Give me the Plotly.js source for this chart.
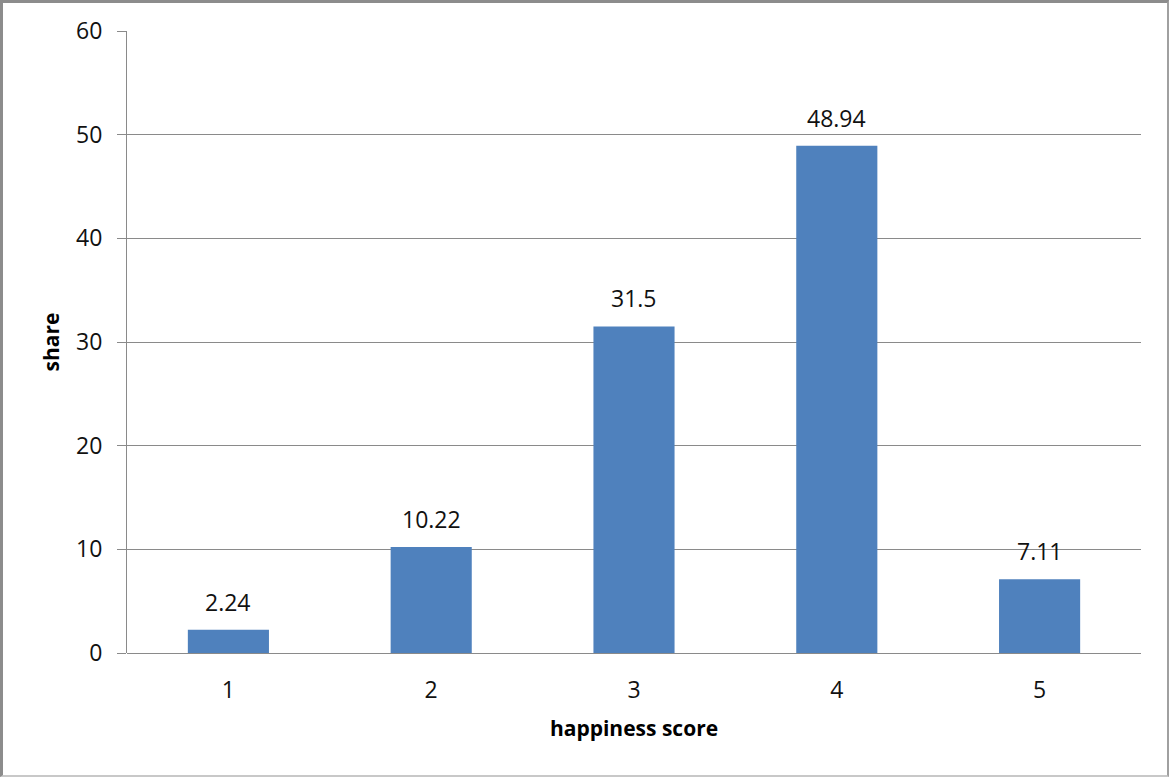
<!DOCTYPE html>
<html>
<head>
<meta charset="utf-8">
<script src="https://cdn.plot.ly/plotly-3.0.1.min.js"></script>
<style>
  html, body { margin: 0; padding: 0; background: #fff; }
  #chart { width: 1169px; height: 777px; position: absolute; left: 0; top: 0; }
  #frame { position: absolute; left: 0; top: 0; width: 1169px; height: 777px; box-sizing: border-box;
           border-top: 3px solid #8c8c8c; border-left: 3px solid #8c8c8c;
           border-right: 2px solid #a0a0a0; border-bottom: 2px solid #c8c8c8; pointer-events: none; }
</style>
</head>
<body>
<div id="chart"></div>
<div id="frame"></div>
<script>
const categories = [1, 2, 3, 4, 5];
const shareValues = [2.24, 10.22, 31.5, 48.94, 7.11];
const tickLabels = ["1", "2", "3", "4", "5"];
const yTicks = [0, 10, 20, 30, 40, 50, 60];

const FONT = "Open Sans, Noto Sans, DejaVu Sans, sans-serif";

const trace = {
  type: "bar",
  x: categories,
  y: shareValues,
  marker: { color: "#4F81BD" },
  hoverinfo: "x+y"
};

const annotations = categories.map((c, i) => ({
  x: c, y: shareValues[i], xref: "x", yref: "y",
  text: String(shareValues[i]),
  showarrow: false, yanchor: "bottom", yshift: 10,
  font: { family: FONT, size: 23, color: "#111111" }
}));

const layout = {
  width: 1169, height: 777,
  margin: { l: 127, r: 28, t: 31, b: 124 },
  paper_bgcolor: "#ffffff", plot_bgcolor: "#ffffff",
  bargap: 0.6,
  showlegend: false,
  font: { family: FONT, size: 23, color: "#111111" },
  xaxis: {
    range: [0.5, 5.5],
    tickvals: categories, ticktext: tickLabels,
    showgrid: false, zeroline: false,
    showline: false, ticks: "",
    ticklabelstandoff: 21,
    tickfont: { family: FONT, size: 23, color: "#111111" },
    title: { text: "happiness score", font: { family: FONT, size: 21, color: "#000", weight: "bold" }, standoff: 17 }
  },
  yaxis: {
    range: [0, 60],
    tickvals: yTicks,
    showgrid: true, gridcolor: "#8a8a8a", gridwidth: 1,
    zeroline: true, zerolinecolor: "#8a8a8a", zerolinewidth: 1,
    showline: true, linecolor: "#8a8a8a", linewidth: 1,
    ticks: "outside", ticklen: 9, tickcolor: "#8a8a8a",
    ticklabelstandoff: 10,
    tickfont: { family: FONT, size: 23, color: "#111111" },
    title: { text: "share", font: { family: FONT, size: 21, color: "#000", weight: "bold" }, standoff: 10 }
  },
  annotations: annotations
};

Plotly.newPlot("chart", [trace], layout, { displayModeBar: false, staticPlot: true });
</script>
</body>
</html>
